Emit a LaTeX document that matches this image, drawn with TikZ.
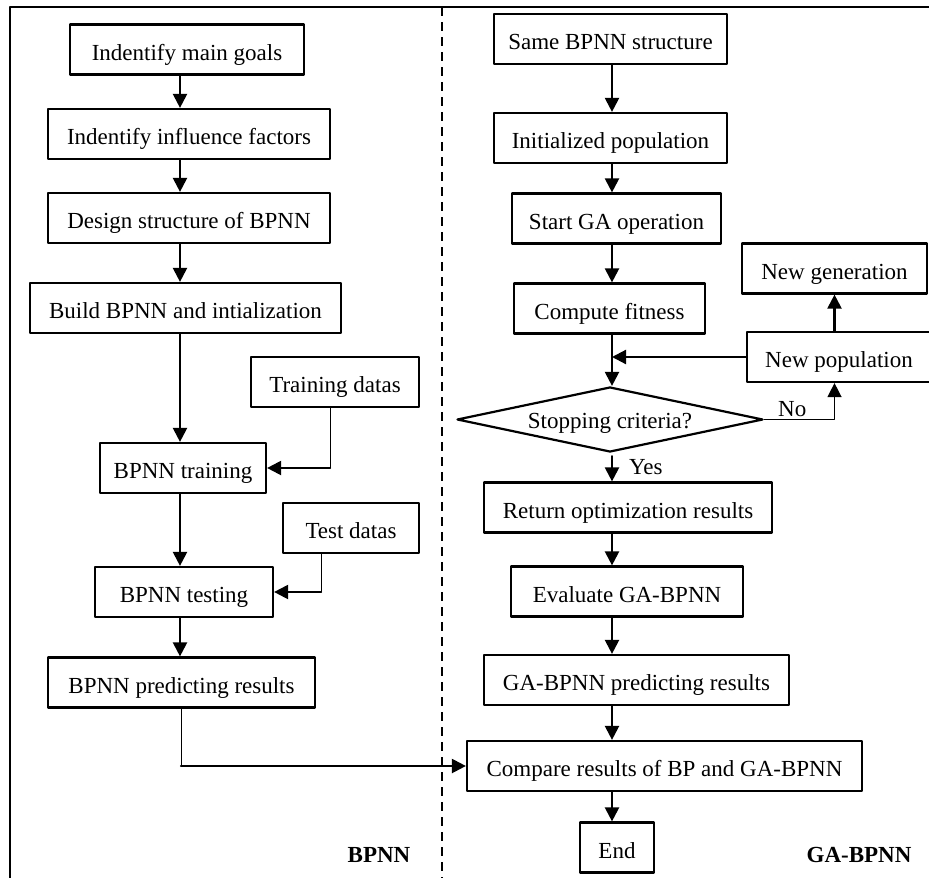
\documentclass[tikz,border=0pt]{standalone}
\usepackage{fontspec}
\setmainfont{Liberation Serif}
\usepackage{tikz}
\usetikzlibrary{arrows.meta,shapes.geometric}

\begin{document}
\begin{tikzpicture}[x=1pt, y=-1pt, line cap=round, line join=round,
    box/.style={draw, line width=2.2pt, minimum height=50pt, inner sep=0pt, text height=21pt, text depth=0pt, font=\fontsize{23}{27}\selectfont},
    arr/.style={line width=2.2pt, -{Triangle[length=14pt,width=14pt]}},
    thinline/.style={line width=1pt},
    lbl/.style={inner sep=2pt, font=\fontsize{23}{27}\selectfont}]
                \useasboundingbox (0,0) rectangle (929,878);
                \draw[line width=2.2pt, line cap=butt] (10,878) -- (10,7) -- (929,7);
                \draw[line width=2pt, line cap=butt, dash pattern=on 9pt off 6pt] (442,7) -- (442,878);
                \coordinate (lx) at (180,0);
                \coordinate (rx) at (612,0);
                \node[box, minimum width=234pt] (goals) at (187,49.5) {Indentify main goals};
                \node[box, minimum width=282pt] (factors) at (189,134) {Indentify influence factors};
                \node[box, minimum width=282pt] (design) at (189,218) {Design structure of BPNN};
                \node[box, minimum width=311pt] (build) at (185.5,308) {Build BPNN and intialization};
                \node[box, minimum width=168pt] (traindata) at (335,382) {Training datas};
                \node[box, minimum width=166pt] (train) at (183,468) {BPNN training};
                \node[box, minimum width=136pt] (testdata) at (351,528) {Test datas};
                \node[box, minimum width=178pt] (test) at (184,592) {BPNN testing};
                \node[box, minimum width=267pt] (predict) at (181.5,682.5) {BPNN predicting results};
                \node[box, minimum width=233pt] (same) at (610.5,39) {Same BPNN structure};
                \node[box, minimum width=233pt] (init) at (610.5,138) {Initialized population};
                \node[box, minimum width=209pt] (start) at (616.5,218.5) {Start GA operation};
                \node[box, minimum width=191pt] (fitness) at (609.5,308.5) {Compute fitness};
                \node[box, minimum width=185pt] (newgen) at (834.5,268.5) {New generation};
                \node[box, minimum width=184pt] (newpop) at (839,357) {New population};
                \node[box, shape=diamond, aspect=4.7, minimum width=306pt, minimum height=65pt, text height=17pt] (crit) at (610,419.5) {Stopping criteria?};
                \node[box, minimum width=288pt] (ret) at (628,507.5) {Return optimization results};
                \node[box, minimum width=232pt] (eval) at (627,591.5) {Evaluate GA-BPNN};
                \node[box, minimum width=305pt] (gapredict) at (636.5,680) {GA-BPNN predicting results};
                \node[box, minimum width=395pt] (compare) at (664.5,766) {Compare results of BP and GA-BPNN};
                \node[box, minimum width=74pt] (end) at (617,847.5) {End};
                \node[lbl, font=\fontsize{23}{27}\selectfont\bfseries] (bpnn) at (379,855) {BPNN};
                \node[lbl, font=\fontsize{23}{27}\selectfont\bfseries] (gabpnn) at (859,855) {GA-BPNN};
                \foreach \a/\b in {goals/factors, factors/design, design/build, build/train, train/test, test/predict}
                    \draw[arr] (\a.south -| lx) -- (\b.north -| lx);
                \foreach \a/\b in {same/init, init/start, start/fitness, fitness/crit, ret/eval, eval/gapredict, gapredict/compare, compare/end}
                    \draw[arr] (\a.south -| rx) -- (\b.north -| rx);
                \coordinate (trainbend) at (330,468);
                \coordinate (testbend) at (321,592);
                \coordinate (predictbend) at (181,766);
                \draw[thinline] (traindata.south -| trainbend) -- (trainbend);
                \draw[arr] (trainbend) -- (train.east);
                \draw[thinline] (testdata.south -| testbend) -- (testbend);
                \draw[arr] (testbend) -- (test.east);
                \draw[thinline] (predict.south -| predictbend) -- (predictbend);
                \draw[arr] (predictbend) -- (compare.west);
                \draw[arr] (newpop.west) -- (newpop.west -| rx);
                \draw[arr] (newgen.south |- newpop.north) -- (newgen.south);
                \draw[arr, line width=1.4pt] (crit.east) -| node[lbl, pos=0.2, above] {No} (newgen.south |- newpop.south);
                \draw[arr, shorten <=3pt] (crit.south -| rx) -- node[lbl, right=14pt] {Yes} (ret.north -| rx);
            \end{tikzpicture}
\end{document}
